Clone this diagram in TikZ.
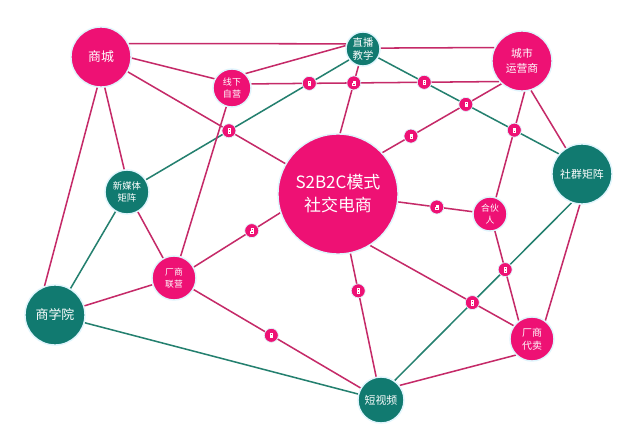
\documentclass[tikz,border=0pt]{standalone}
\usepackage{fontspec}
\newfontfamily\cjk{Noto Sans CJK SC}
\usetikzlibrary{backgrounds,calc}
\definecolor{rosefill}{HTML}{EE1174}
\definecolor{tealfill}{HTML}{117A70}
\definecolor{roseline}{HTML}{C52A68}
\definecolor{tealline}{HTML}{24806F}
\begin{document}
\begin{tikzpicture}[x=0.3mm,y=-0.3mm,
  ball/.style={circle,inner sep=0pt,align=center,text=white,draw=cyan!12,line width=1.2pt},
  roseball/.style={ball,fill=rosefill},
  tealball/.style={ball,fill=tealfill},
  roselink/.style={roseline,line width=1.3pt},
  teallink/.style={tealline,line width=1.3pt},
  linkdot/.style={circle,fill=rosefill,minimum size=4.2mm,inner sep=0pt,draw=cyan!12,line width=0.6pt,
    path picture={\draw[white,line width=0.3pt]
      ([shift={(-0.3mm,0.15mm)}]path picture bounding box.center) rectangle ++(0.6mm,0.5mm)
      ([shift={(-0.35mm,-0.65mm)}]path picture bounding box.center) rectangle ++(0.7mm,0.55mm);}}]
\useasboundingbox (0,0) rectangle (633,437);
\node[roseball,minimum size=18mm,font=\cjk\fontsize{11}{13}\selectfont] (mall) at (101,57) {商城};
\node[tealball,minimum size=10.2mm,font=\cjk\fontsize{8.8}{11}\selectfont] (live) at (363,49) {直播\\教学};
\node[roseball,minimum size=18mm,font=\cjk\fontsize{9.2}{12.8}\selectfont] (city) at (522,61) {城市\\运营商};
\node[roseball,minimum size=11.4mm,font=\cjk\fontsize{7.7}{10}\selectfont] (offline) at (232,88) {线下\\自营};
\node[tealball,minimum size=13.2mm,font=\cjk\fontsize{8}{10.5}\selectfont] (media) at (127,192) {新媒体\\矩阵};
\node[roseball,minimum size=36mm,font=\cjk\fontsize{14.5}{19.6}\selectfont] (hub) at (338,194) {S2B2C模式\\社交电商};
\node[tealball,minimum size=18mm,font=\cjk\fontsize{9.3}{11}\selectfont] (group) at (582,174) {社群矩阵};
\node[roseball,minimum size=10.2mm,font=\cjk\fontsize{7.5}{10}\selectfont] (partner) at (490,214) {合伙\\人};
\node[roseball,minimum size=13.2mm,font=\cjk\fontsize{7.5}{10}\selectfont] (joint) at (174,278) {厂商\\联营};
\node[tealball,minimum size=18mm,font=\cjk\fontsize{11}{13}\selectfont] (school) at (55,315) {商学院};
\node[tealball,minimum size=13.8mm,font=\cjk\fontsize{9.3}{11}\selectfont] (video) at (381,400) {短视频};
\node[roseball,minimum size=13.2mm,font=\cjk\fontsize{8.5}{11}\selectfont] (agent) at (532,339) {厂商\\代卖};
\begin{scope}[on background layer]
\fill[white] (0,0) rectangle (633,437);
\draw[roselink] (mall.26) -- (live.163);
\draw[roselink] (live.3) -- (city.154);
\draw[roselink] (mall.-2) -- (offline.152);
\draw[roselink] (mall.331) -- (hub.150);
\draw[roselink] (mall.263) -- (school.110);
\draw[roselink] (mall.277) -- (media.97);
\draw[roselink] (live.169) -- (offline.47);
\draw[teallink] (live.218) -- (media.33);
\draw[roselink] (live.255) -- (hub.88);
\draw[teallink] (live.330) -- (group.139);
\draw[roselink] (offline.12) -- (city.222);
\draw[roselink] (city.228) -- (hub.43);
\draw[roselink] (city.275) -- (partner.70);
\draw[roselink] (city.287) -- (group.122);
\draw[teallink] (group.250) -- (video.55);
\draw[roselink] (group.266) -- (agent.54);
\draw[roselink] (hub) -- (partner);
\draw[roselink] (partner.286) -- (agent.126);
\draw[roselink] (hub.302) -- (agent.144);
\draw[roselink] (hub) -- (video);
\draw[roselink] (hub.198) -- (joint.29);
\draw[roselink] (offline) -- (joint);
\draw[teallink] (media) -- (school);
\draw[roselink] (media) -- (joint);
\draw[roselink] (school) -- (joint);
\draw[teallink] (school) -- (video);
\draw[roselink] (joint) -- (video);
\draw[roselink] (video.38) -- (agent.225);
\end{scope}
\node[linkdot] (d1) at (intersection of live.218--media.33 and offline.12--city.222) {};
\node[linkdot] (d2) at (intersection of live.218--media.33 and mall.331--hub.150) {};
\node[linkdot] (d3) at (intersection of live.255--hub.88 and offline.12--city.222) {};
\node[linkdot] (d4) at (intersection of live.330--group.139 and offline.12--city.222) {};
\node[linkdot] (d5) at (intersection of live.330--group.139 and city.228--hub.43) {};
\node[linkdot] (d6) at ($(city.228)!0.76!(hub.43)$) {};
\node[linkdot] (d7) at (intersection of live.330--group.139 and city.275--partner.70) {};
\node[linkdot] (d8) at ($(hub)!0.65!(partner)$) {};
\node[linkdot] (d9) at ($(hub.198)!0.33!(joint.29)$) {};
\node[linkdot] (d10) at ($(joint)!0.47!(video)$) {};
\node[linkdot] (d11) at ($(hub)!0.47!(video)$) {};
\node[linkdot] (d12) at (intersection of hub.302--agent.144 and group.250--video.55) {};
\node[linkdot] (d13) at (intersection of partner.286--agent.126 and group.250--video.55) {};
\end{tikzpicture}
\end{document}
